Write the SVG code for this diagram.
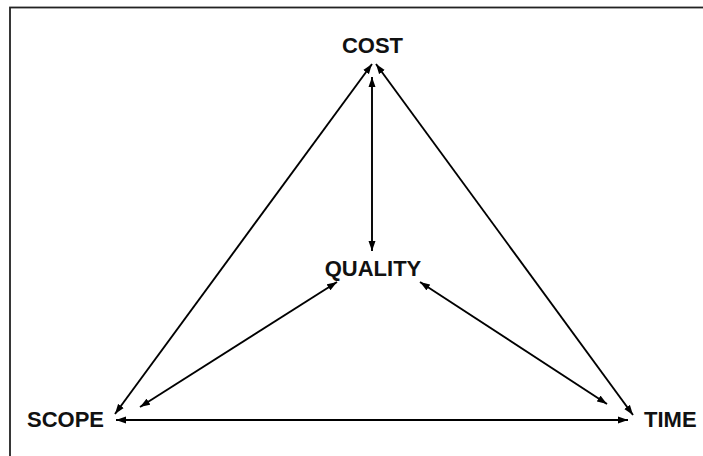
<svg xmlns="http://www.w3.org/2000/svg" width="703" height="456" viewBox="0 0 703 456">
  <style>
    .lbl { font-family: "Liberation Sans", Arial, sans-serif; font-weight: bold; font-size: 22px; fill: #111; }
    .conn { stroke: #000; stroke-width: 1.9; fill: none; marker-start: url(#ah); marker-end: url(#ah); }
  </style>
  <defs>
    <marker id="ah" markerUnits="userSpaceOnUse" markerWidth="11" markerHeight="8" refX="10" refY="4" orient="auto-start-reverse">
      <path d="M0,0.5 L10,4 L0,7.5 z" fill="#000"/>
    </marker>
  </defs>
  <rect x="0" y="0" width="703" height="456" fill="#fff"/>
  <rect x="10" y="7.5" width="700" height="460" fill="none" stroke="#222" stroke-width="1.8"/>
  <g id="connectors">
    <line class="conn" x1="372" y1="64" x2="115" y2="414"/>
    <line class="conn" x1="376" y1="64" x2="633" y2="415"/>
    <line class="conn" x1="372" y1="77" x2="372" y2="251"/>
    <line class="conn" x1="337" y1="282" x2="140" y2="407"/>
    <line class="conn" x1="420" y1="282" x2="607" y2="404"/>
    <line class="conn" x1="116" y1="420" x2="628" y2="420"/>
  </g>
  <g id="cost"><text class="lbl" x="372.5" y="53" text-anchor="middle">COST</text></g>
  <g id="quality"><text class="lbl" x="373" y="276" text-anchor="middle">QUALITY</text></g>
  <g id="scope"><text class="lbl" x="27" y="427">SCOPE</text></g>
  <g id="time"><text class="lbl" x="644" y="427">TIME</text></g>
</svg>
